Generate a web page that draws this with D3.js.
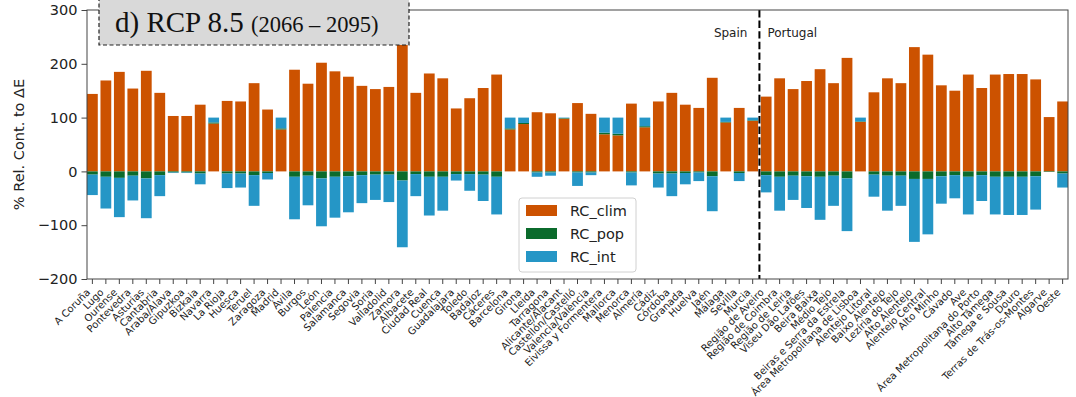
<!DOCTYPE html>
<html>
<head>
<meta charset="utf-8">
<script src="https://cdn.jsdelivr.net/npm/d3@7"></script>
<style>
  html, body { margin: 0; padding: 0; background: #fff; }
  svg { display: block; font-family: "DejaVu Sans", sans-serif; }
</style>
</head>
<body>
<svg id="chart" width="1076" height="397"></svg>
<script>
// Regions (NUTS-3): Spanish provinces followed by Portuguese sub-regions
const spainRegions = [
  "A Coruña", "Lugo", "Ourense", "Pontevedra", "Asturias", "Cantabria",
  "Araba/Álava", "Gipuzkoa", "Bizkaia", "Navarra", "La Rioja", "Huesca",
  "Teruel", "Zaragoza", "Madrid", "Ávila", "Burgos", "León", "Palencia",
  "Salamanca", "Segovia", "Soria", "Valladolid", "Zamora", "Albacete",
  "Ciudad Real", "Cuenca", "Guadalajara", "Toledo", "Badajoz", "Cáceres",
  "Barcelona", "Girona", "Lleida", "Tarragona", "Alicante/Alacant",
  "Castellón/Castelló", "Valencia/València", "Eivissa y Formentera",
  "Mallorca", "Menorca", "Almería", "Cádiz", "Córdoba", "Granada", "Huelva",
  "Jaén", "Málaga", "Sevilla", "Murcia"
];
const portugalRegions = [
  "Região de Aveiro", "Região de Coimbra", "Região de Leiria",
  "Viseu Dão Lafões", "Beira Baixa", "Médio Tejo",
  "Beiras e Serra da Estrela", "Área Metropolitana de Lisboa",
  "Alentejo Litoral", "Baixo Alentejo", "Lezíria do Tejo", "Alto Alentejo",
  "Alentejo Central", "Alto Minho", "Cávado", "Ave",
  "Área Metropolitana do Porto", "Alto Tâmega", "Tâmega e Sousa", "Douro",
  "Terras de Trás-os-Montes", "Algarve", "Oeste"
];
const regions = spainRegions.concat(portugalRegions);

// Relative contributions to ΔE (%), one value per region
const rcClim = [
  144, 169, 185, 154, 187, 146, 103, 103, 124, 89, 131, 130, 164, 115, 78,
  189, 163, 202, 186, 176, 159, 153, 157, 241, 146, 182, 173, 117, 136, 155,
  180, 78, 88, 110, 108, 98, 127, 107, 69, 67, 126, 82, 130, 146, 124, 118,
  174, 91, 118, 94,
  139, 173, 153, 168, 190, 164, 211, 92, 147, 173, 164, 231, 217, 160, 150,
  180, 155, 180, 181, 181, 171, 101, 130
];
const rcPop = [
  -6, -10, -12, -8, -13, -7, -2, -2, -4, 2, -4, -4, -7, -3, 2,
  -10, -8, -13, -10, -9, -7, -6, -6, -17, -5, -10, -10, -5, -5, -6,
  -10, 2, 2, -2, -2, 1, -2, -2, 3, 3, -2, 2, -4, -4, -3, -2,
  -9, 1, -3, 1,
  -7, -10, -8, -9, -10, -8, -13, 1, -6, -8, -8, -14, -14, -9, -7,
  -10, -7, -10, -10, -10, -9, -1, -4
];
const rcInt = [
  -38, -59, -73, -46, -74, -39, -1, -1, -20, 9, -27, -26, -57, -12, 20,
  -79, -55, -89, -76, -67, -52, -47, -51, -124, -41, -72, -63, -12, -31, -49,
  -70, 20, 10, -8, -6, 1, -25, -5, 28, 30, -24, 16, -26, -42, -21, -16,
  -65, 8, -15, 5,
  -32, -63, -45, -59, -80, -56, -98, 7, -41, -65, -56, -117, -103, -51, -43,
  -70, -48, -70, -71, -71, -62, 0, -26
];

const yTicks = [-200, -100, 0, 100, 200, 300];
const seriesNames = ["RC_clim", "RC_pop", "RC_int"];
const seriesColors = ["#cc5200", "#0b6b2c", "#2596c6"];

const svg = d3.select("#chart");
const plot = { left: 87, right: 1068, top: 10, bottom: 279 };

const x = d3.scaleBand()
  .domain(regions)
  .range([plot.left, plot.right])
  .paddingInner(0.2)
  .paddingOuter(0);

const y = d3.scaleLinear()
  .domain([-200, 300])
  .range([plot.bottom, plot.top]);

// Build stacked segments: positive parts grow upward, negative parts downward
const segments = [];
regions.forEach((r, i) => {
  const vals = [rcClim[i], rcPop[i], rcInt[i]];
  let pos = 0, neg = 0;
  vals.forEach((v, k) => {
    if (v >= 0) {
      segments.push({ region: r, k, y0: pos, y1: pos + v });
      pos += v;
    } else {
      segments.push({ region: r, k, y0: neg + v, y1: neg });
      neg += v;
    }
  });
});

svg.append("defs").append("clipPath").attr("id", "plotClip")
  .append("rect")
  .attr("x", plot.left).attr("y", plot.top)
  .attr("width", plot.right - plot.left).attr("height", plot.bottom - plot.top);

const barsG = svg.append("g").attr("clip-path", "url(#plotClip)");
barsG.selectAll("rect")
  .data(segments.filter(s => s.y1 - s.y0 > 0))
  .join("rect")
  .attr("x", d => x(d.region))
  .attr("width", x.bandwidth())
  .attr("y", d => y(d.y1))
  .attr("height", d => y(d.y0) - y(d.y1))
  .attr("fill", d => seriesColors[d.k]);

// Spain | Portugal divider
const divX = (x(spainRegions[spainRegions.length - 1]) + x.bandwidth() + x(portugalRegions[0])) / 2;
svg.append("line")
  .attr("x1", divX).attr("x2", divX)
  .attr("y1", plot.top).attr("y2", plot.bottom)
  .attr("stroke", "#000").attr("stroke-width", 2)
  .attr("stroke-dasharray", "7.4,3.2");

svg.append("text").attr("x", divX - 12).attr("y", 36.5)
  .attr("text-anchor", "end").attr("font-size", 12).attr("fill", "#222")
  .text("Spain");
svg.append("text").attr("x", divX + 8).attr("y", 36.5)
  .attr("text-anchor", "start").attr("font-size", 12).attr("fill", "#222")
  .text("Portugal");

// Axes frame
svg.append("rect")
  .attr("x", plot.left).attr("y", plot.top)
  .attr("width", plot.right - plot.left).attr("height", plot.bottom - plot.top)
  .attr("fill", "none").attr("stroke", "#444").attr("stroke-width", 1);

// Y axis
const yAxis = svg.append("g")
  .attr("transform", `translate(${plot.left},0)`)
  .call(d3.axisLeft(y).tickValues(yTicks).tickSize(5.5).tickPadding(4)
    .tickFormat(d => d < 0 ? "\u2212" + Math.abs(d) : String(d)));
yAxis.select(".domain").remove();
yAxis.selectAll("line").attr("stroke", "#444");
yAxis.selectAll("text").attr("font-size", 14.5).attr("fill", "#222")
  .attr("font-family", "DejaVu Sans, sans-serif");

svg.append("text")
  .attr("transform", `translate(24,${(plot.top + plot.bottom) / 2}) rotate(-90)`)
  .attr("text-anchor", "middle").attr("font-size", 14.5).attr("fill", "#222")
  .text("% Rel. Cont. to ΔE");

// X axis with rotated region names
const xAxis = svg.append("g")
  .attr("transform", `translate(0,${plot.bottom})`)
  .call(d3.axisBottom(x).tickSize(5).tickPadding(0));
xAxis.select(".domain").remove();
xAxis.selectAll("line").attr("stroke", "#444");
xAxis.selectAll("text")
  .attr("font-size", 10).attr("fill", "#222")
  .attr("font-family", "DejaVu Sans, sans-serif")
  .attr("text-anchor", "end")
  .attr("dy", null).attr("y", null)
  .attr("transform", "translate(-1.5,14) rotate(-45)");

// Legend
const legend = svg.append("g").attr("transform", "translate(519,198)");
legend.append("rect")
  .attr("width", 117).attr("height", 74).attr("rx", 3)
  .attr("fill", "#fff").attr("fill-opacity", 0.85)
  .attr("stroke", "#d0d0d0").attr("stroke-width", 1);
seriesNames.forEach((name, i) => {
  const row = legend.append("g").attr("transform", `translate(0,${12.5 + i * 23})`);
  row.append("rect").attr("x", 7).attr("y", -5.5)
    .attr("width", 31).attr("height", 11).attr("fill", seriesColors[i]);
  row.append("text").attr("x", 51).attr("y", 5.5)
    .attr("font-size", 14.5).attr("fill", "#222").text(name);
});

// Scenario title box
const title = svg.append("g");
title.append("rect")
  .attr("x", 99).attr("y", -6).attr("width", 310).attr("height", 51)
  .attr("fill", "#d9d9d9").attr("stroke", "#222").attr("stroke-width", 1.2)
  .attr("stroke-dasharray", "4,2.5");
const tt = title.append("text").attr("x", 115).attr("y", 32)
  .attr("font-family", "Liberation Serif, Times New Roman, serif").attr("fill", "#111");
tt.append("tspan").attr("font-size", 29).text("d) RCP 8.5 ");
tt.append("tspan").attr("font-size", 22.5).text("(2066 – 2095)");
</script>
</body>
</html>
